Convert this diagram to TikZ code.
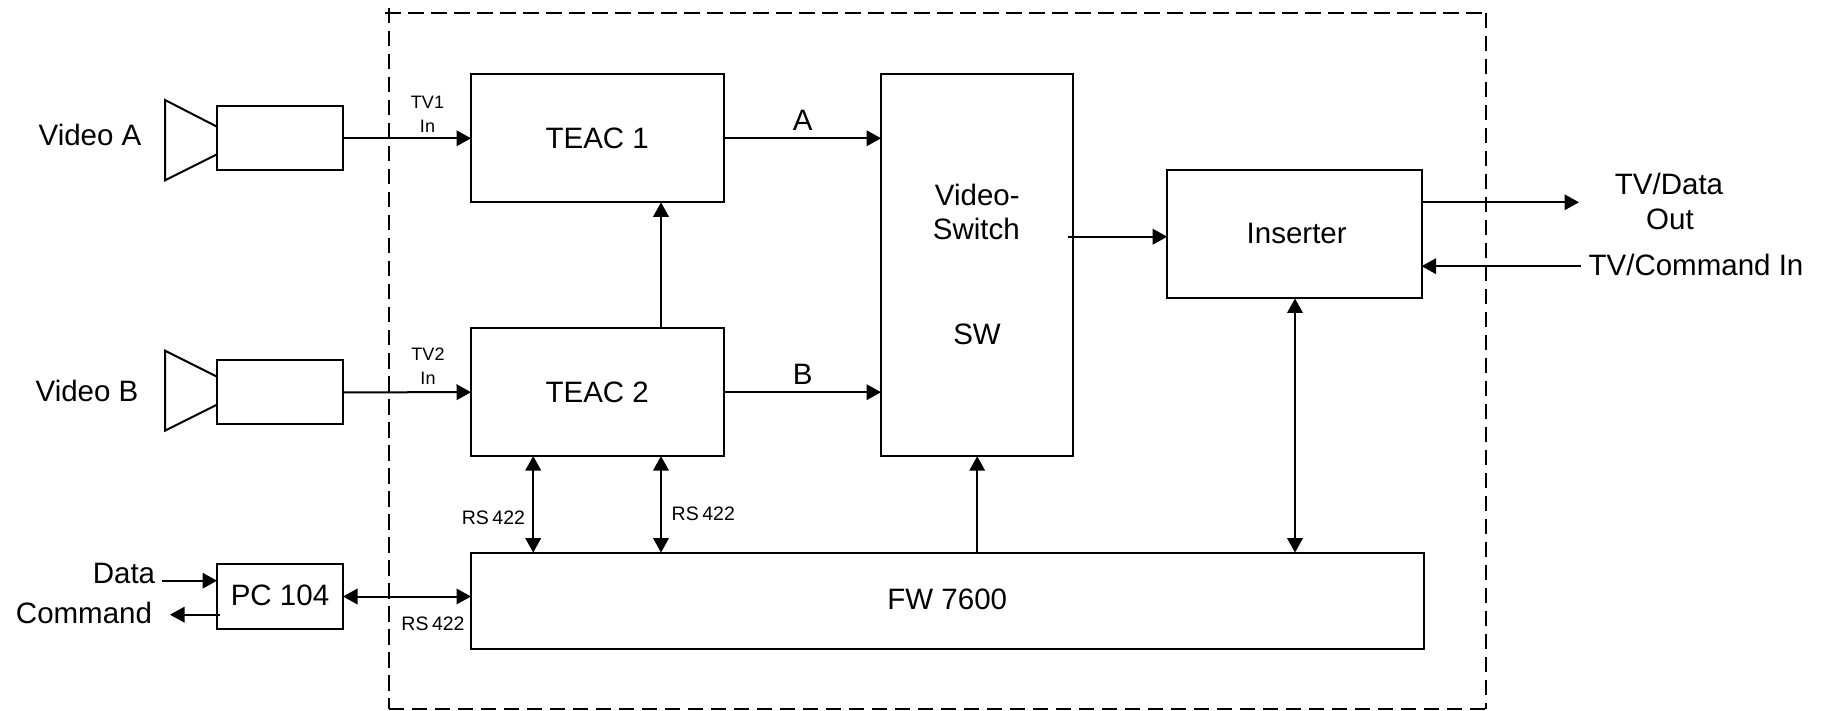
\documentclass[tikz,border=0pt]{standalone}
\usepackage{fontspec}
\setmainfont{Liberation Sans}
\usetikzlibrary{arrows.meta}
\tikzset{
  x=1pt,y=-1pt,
  wire/.style={line width=2pt,draw=black},
  sgl/.style={wire,-{Triangle[length=14.5pt,width=15.5pt]}},
  dbl/.style={wire,{Triangle[length=14.5pt,width=15.5pt]}-{Triangle[length=14.5pt,width=15.5pt]}},
  frameline/.style={line width=2pt,draw=black,dash pattern=on 15.5pt off 7.5pt},
  blockbox/.style={draw=black,line width=2pt,fill=white,inner sep=0pt,outer sep=0pt,align=center,font=\fontsize{29.5}{34}\selectfont},
  big/.style={inner sep=0pt,outer sep=0pt,align=center,font=\fontsize{29.5}{34}\selectfont},
  tiny/.style={inner sep=0pt,outer sep=0pt,align=center,font=\fontsize{18}{22}\selectfont},
  rs/.style={inner sep=0pt,outer sep=0pt,font=\fontsize{19.5}{24}\selectfont},
}
\newcommand{\rsfour}{RS\hspace{3.5pt}422}
\begin{document}
\begin{tikzpicture}
\useasboundingbox (0,0) rectangle (1829,711);
% dashed frame
\coordinate (fTL) at (388.5,12.8);
\coordinate (fTR) at (1485.5,12.8);
\coordinate (fBL) at (388.5,709);
\coordinate (fBR) at (1485.5,709);
\coordinate (fTLa) at (385,12.8);
\coordinate (fTLb) at (388.5,8);
\draw[frameline] (fTLa) -- (fTR);
\draw[frameline] (fTLb) -- (fBL);
\draw[frameline] (fTR) -- (fBR);
\draw[frameline] (fBL) -- (fBR);
% boxes
\node[blockbox,minimum width=252.5pt,minimum height=128pt] (teacA) at (597.25,138.3) {TEAC 1};
\node[blockbox,minimum width=252.5pt,minimum height=127.7pt] (teacB) at (597.25,392.2) {TEAC 2};
\node[blockbox,minimum width=192.3pt,minimum height=382.2pt] (vs) at (977.2,265.1) {};
\node[blockbox,minimum width=254.4pt,minimum height=128pt] (ins) at (1294.4,234.5) {\hspace{4.6pt}\raisebox{1.7pt}{Inserter}};
\node[blockbox,minimum width=952.5pt,minimum height=96pt] (fw) at (947.25,600.6) {\raisebox{1.9pt}{FW 7600}};
\node[blockbox,minimum width=126pt,minimum height=64pt] (camA) at (280,138.3) {};
\node[blockbox,minimum width=126pt,minimum height=64pt] (camB) at (280,392.3) {};
\node[blockbox,minimum width=126pt,minimum height=64.4pt] (pc) at (280,596.5) {\raisebox{1.8pt}{PC 104}};
% camera lenses
\draw[wire,line join=miter] (camA.west |- 0,126.7) -- (165,100) -- (165,180.3) -- (camA.west |- 0,154.3);
\draw[wire,line join=miter] (camB.west |- 0,376.7) -- (165,350.7) -- (165,430.7) -- (camB.west |- 0,404.7);
% helper coordinates
\coordinate (xa) at (533.2,0);
\coordinate (xb) at (661,0);
\coordinate (xv) at (977.2,0);
\coordinate (xi) at (1295,0);
\coordinate (dataS) at (162.4,580.7);
\coordinate (cmdS) at (219.6,614.7);
\coordinate (cmdE) at (170,614.7);
\coordinate (vsOut) at (1068.4,236.7);
\coordinate (outE) at (1579,202.3);
\coordinate (inS) at (1580.5,266.2);
% connectors
\draw[sgl] (camA.east) -- (teacA.west);
\draw[sgl] (camB.east) -- (teacB.west);
\draw[sgl] (teacA.east) -- (vs.west |- teacA.east);
\draw[sgl] (teacB.east) -- (vs.west |- teacB.east);
\draw[sgl] (teacB.north -| xb) -- (teacA.south -| xb);
\draw[dbl] (teacB.south -| xa) -- (fw.north -| xa);
\draw[dbl] (teacB.south -| xb) -- (fw.north -| xb);
\draw[sgl] (fw.north -| xv) -- (vs.south -| xv);
\draw[dbl] (ins.south -| xi) -- (fw.north -| xi);
\draw[sgl] (vsOut) -- (ins.west |- vsOut);
\draw[sgl] (ins.east |- outE) -- (outE);
\draw[sgl] (inS) -- (ins.east |- inS);
\draw[dbl] (pc.east) -- (fw.west |- pc.east);
\draw[sgl] (dataS) -- (pc.west |- dataS);
\draw[sgl] (cmdS) -- (cmdE);
% labels
\node[big] (lVA) at (90,134.5) {Video A};
\node[big] (lVB) at (87,390.5) {Video B};
\node[big] (lData) at (124,573) {Data};
\node[big] (lCmd) at (84,612.7) {Command};
\node[big] (lA) at (802.6,120.3) {A};
\node[big] (lB) at (802.6,374.3) {B};
\node[big] (lV1) at (977.3,194.8) {Video-};
\node[big] (lV2) at (976.3,228.7) {Switch};
\node[big] (lSW) at (977,334) {SW};
\node[big] (lOut1) at (1669,183.5) {TV/Data};
\node[big] (lOut2) at (1670,219.5) {Out};
\node[big] (lIn) at (1696,265) {TV/Command In};
\node[tiny] (tv1) at (427.5,102.3) {TV1};
\node[tiny] (in1) at (427.5,126.7) {In};
\node[tiny] (tv2) at (428,354.3) {TV2};
\node[tiny] (in2) at (428,378.7) {In};
\node[rs] (rsA) at (493.4,518) {\rsfour};
\node[rs] (rsB) at (703.3,514) {\rsfour};
\node[rs] (rsC) at (433,624) {\rsfour};
\end{tikzpicture}
\end{document}
